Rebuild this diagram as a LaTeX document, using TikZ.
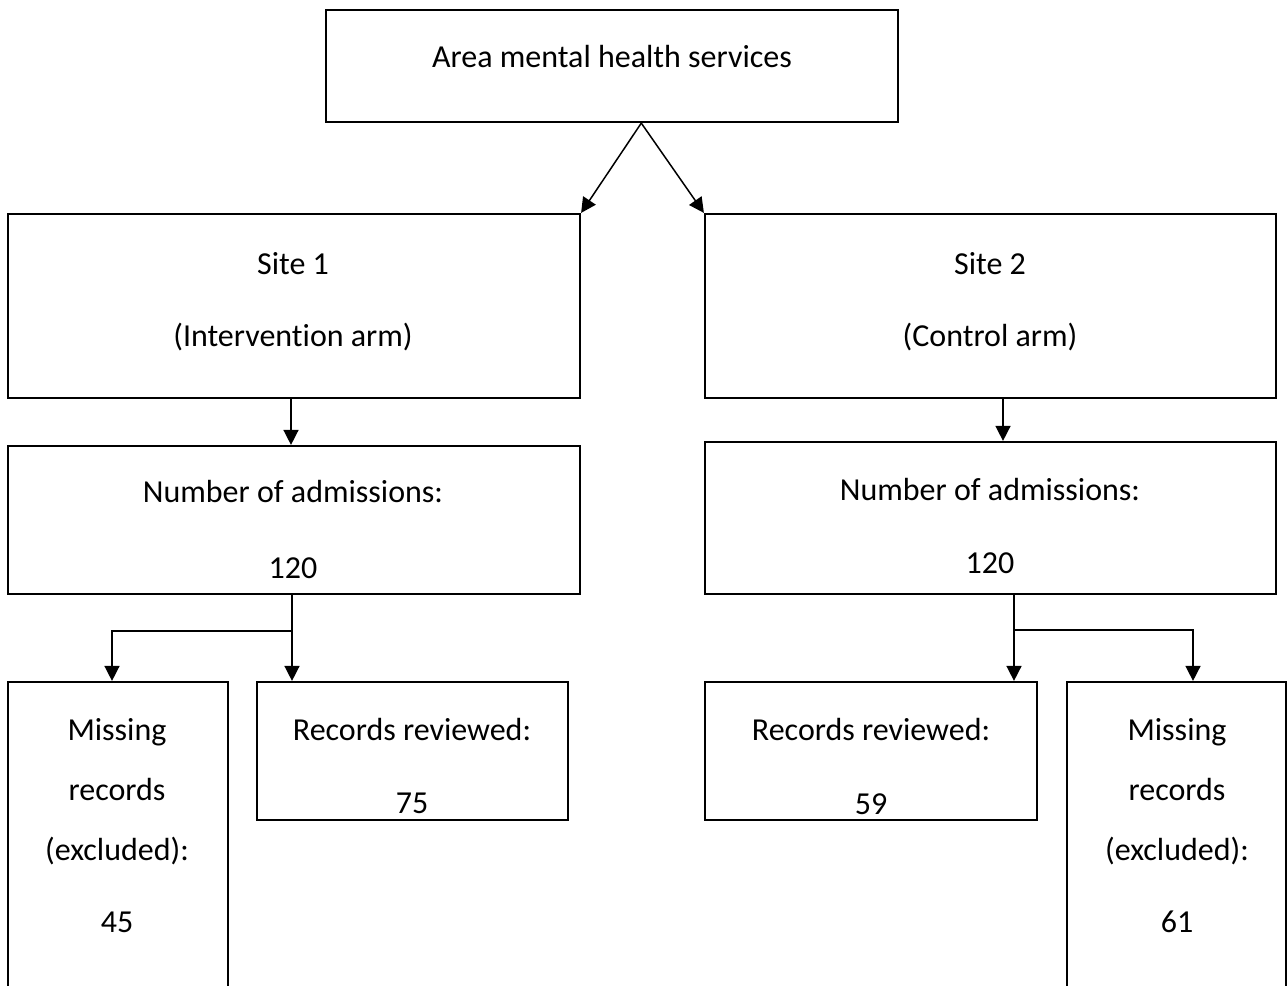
\documentclass[tikz,border=0pt]{standalone}
\usepackage{fontspec}
\setmainfont{Carlito}[Ligatures=NoCommon]
\usetikzlibrary{arrows.meta,calc}
\begin{document}
\begin{tikzpicture}[x=1pt,y=-1pt,
  box/.style={draw,line width=2.2pt,rectangle,inner sep=0pt},
  txt/.style={anchor=base,inner sep=0pt,font=\fontsize{32}{38}\selectfont},
  conn/.style={line width=1.5pt,-{Triangle[width=15pt,length=15pt]}}]
\useasboundingbox (0,0) rectangle (1287,985);
\clip (0,0) rectangle (1287,985);

% boxes
\node[box,minimum width=572pt,minimum height=112pt] (top) at (612,66) {};
\node[box,minimum width=572pt,minimum height=184pt] (site1) at (294,306) {};
\node[box,minimum width=571pt,minimum height=184pt] (site2) at (990.5,306) {};
\node[box,minimum width=572pt,minimum height=148pt] (adm1) at (294,520) {};
\node[box,minimum width=571pt,minimum height=152pt] (adm2) at (990.5,518) {};
\node[box,minimum width=220pt,minimum height=340pt] (miss1) at (118,852) {};
\node[box,minimum width=311pt,minimum height=138pt] (rev1) at (412.5,751) {};
\node[box,minimum width=332pt,minimum height=138pt] (rev2) at (871,751) {};
\node[box,minimum width=219pt,minimum height=340pt] (miss2) at (1176.5,852) {};

% texts
\node[txt] (ttop) at (612,67) {Area mental health services};
\node[txt] (ts1a) at (293,274) {Site 1};
\node[txt] (ts1b) at (293,346) {(Intervention arm)};
\node[txt] (ts2a) at (990,274) {Site 2};
\node[txt] (ts2b) at (990,346) {(Control arm)};
\node[txt] (ta1a) at (293,502) {Number of admissions:};
\node[txt] (ta1b) at (293,578) {120};
\node[txt] (ta2a) at (990,500) {Number of admissions:};
\node[txt] (ta2b) at (990,573) {120};
\node[txt] (tm1a) at (117,740) {Missing};
\node[txt] (tm1b) at (117,800) {records};
\node[txt] (tm1c) at (117,860) {(excluded):};
\node[txt] (tm1d) at (117,932) {45};
\node[txt] (tr1a) at (412,740) {Records reviewed:};
\node[txt] (tr1b) at (412,813) {75};
\node[txt] (tr2a) at (871,740) {Records reviewed:};
\node[txt] (tr2b) at (871,814) {59};
\node[txt] (tm2a) at (1177,740) {Missing};
\node[txt] (tm2b) at (1177,800) {records};
\node[txt] (tm2c) at (1177,860) {(excluded):};
\node[txt] (tm2d) at (1177,932) {61};

% connectors
\coordinate (apex) at ($(top.south west)!0.551!(top.south east)$);
\draw[conn] (apex) -- (site1.north east);
\draw[conn] (apex) -- (site2.north west);
\draw[conn] ($(site1.south)+(-3,0)$) -- ($(adm1.north)+(-3,0)$);
\draw[conn] ($(site2.south)+(12.5,0)$) -- ($(adm2.north)+(12.5,0)$);

\coordinate (j1) at ($(adm1.south)+(-2,36)$);
\draw[conn] (adm1.south -| j1) -- (j1) -| ($(miss1.north)+(-6,0)$);
\draw[conn] (j1) -- (j1 |- rev1.north);

\coordinate (j2) at ($(adm2.south)+(23.5,35)$);
\draw[conn] (adm2.south -| j2) -- (j2) -| ($(miss2.north)+(16.5,0)$);
\draw[conn] (j2) -- (j2 |- rev2.north);
\end{tikzpicture}
\end{document}
